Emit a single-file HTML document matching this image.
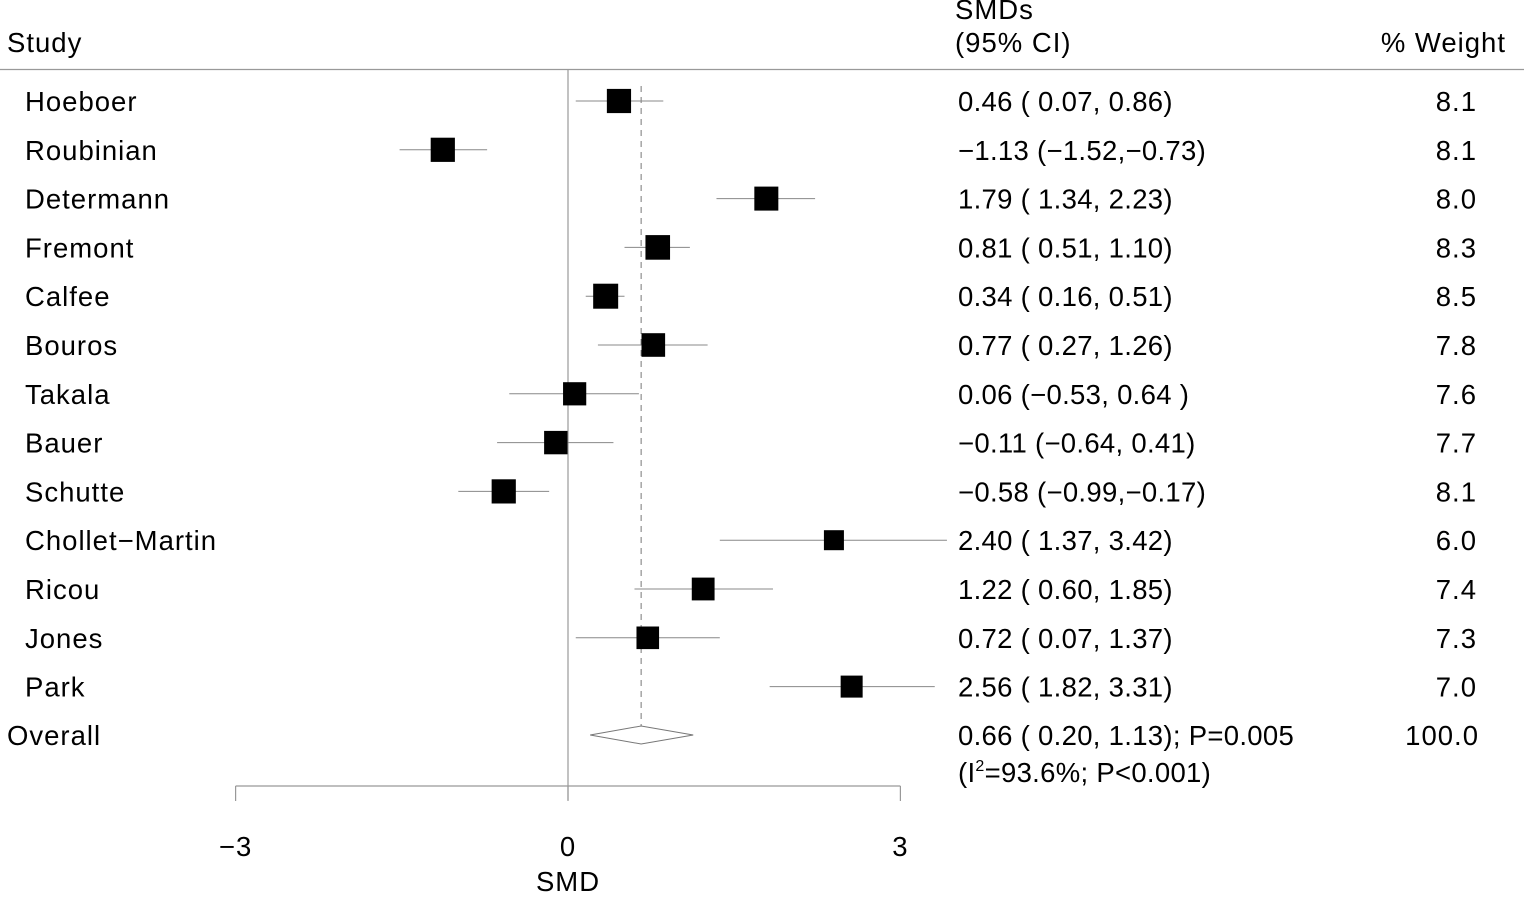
<!DOCTYPE html>
<html><head><meta charset="utf-8"><style>
body{margin:0;background:#fff}
svg text{font-family:"Liberation Sans",sans-serif;font-size:27.5px;letter-spacing:1px;fill:#000}
svg text.ci{letter-spacing:0.3px}
</style></head><body>
<svg width="1524" height="892" xmlns="http://www.w3.org/2000/svg">
<g id="g"></g>
</svg>
<script>
const studies=["Hoeboer","Roubinian","Determann","Fremont","Calfee","Bouros","Takala","Bauer","Schutte","Chollet\u2212Martin","Ricou","Jones","Park"];
const smd=[0.46,-1.13,1.79,0.81,0.34,0.77,0.06,-0.11,-0.58,2.40,1.22,0.72,2.56];
const lo=[0.07,-1.52,1.34,0.51,0.16,0.27,-0.53,-0.64,-0.99,1.37,0.60,0.07,1.82];
const hi=[0.86,-0.73,2.23,1.10,0.51,1.26,0.64,0.41,-0.17,3.42,1.85,1.37,3.31];
const ciText=["0.46 ( 0.07, 0.86)","\u22121.13 (\u22121.52,\u22120.73)","1.79 ( 1.34, 2.23)","0.81 ( 0.51, 1.10)","0.34 ( 0.16, 0.51)","0.77 ( 0.27, 1.26)","0.06 (\u22120.53, 0.64 )","\u22120.11 (\u22120.64, 0.41)","\u22120.58 (\u22120.99,\u22120.17)","2.40 ( 1.37, 3.42)","1.22 ( 0.60, 1.85)","0.72 ( 0.07, 1.37)","2.56 ( 1.82, 3.31)"];
const weight=[8.1,8.1,8.0,8.3,8.5,7.8,7.6,7.7,8.1,6.0,7.4,7.3,7.0];
const overall=[0.66,0.20,1.13];
const ticks=[-3,0,3];
const NS="http://www.w3.org/2000/svg";
const g=document.getElementById('g');
const X=v=>568+v*110.8;
const Y=i=>101+i*48.8;
function mk(t,a,txt){const e=document.createElementNS(NS,t);for(const k in a)e.setAttribute(k,a[k]);if(txt!==undefined)e.textContent=txt;g.appendChild(e);return e;}
let e;
e=mk('text',{x:7,y:52},"Study");


e=mk('text',{x:955,y:19},"SMDs");


e=mk('text',{x:955,y:52},"(95% CI)");


e=mk('text',{x:1506,y:52,'text-anchor':'end'},"% Weight");


e=mk('line',{x1:0,x2:1524,y1:69.5,y2:69.5,stroke:'#999','stroke-width':1.2});


e=mk('line',{x1:X(0),x2:X(0),y1:70,y2:800,stroke:'#999','stroke-width':1.2});


e=mk('line',{x1:X(overall[0]),x2:X(overall[0]),y1:86,y2:745,stroke:'#777','stroke-width':1,'stroke-dasharray':'6,5'});


studies.forEach((s,i)=>{
 const y=Y(i);
 e=mk('text',{x:25,y:y+10},s);
 
 
 e=mk('line',{x1:X(lo[i]),x2:X(hi[i]),y1:y,y2:y,stroke:'#888','stroke-width':1});
 
 
 const sz=8+2*weight[i];
 e=mk('rect',{x:X(smd[i])-sz/2,y:y-sz/2,width:sz,height:sz,fill:'#000'});
 
 
 e=mk('text',{x:958,y:y+10,'class':'ci'},ciText[i]);
 
 
 e=mk('text',{x:1477,y:y+10,'text-anchor':'end'},weight[i].toFixed(1));
 
 
});
const yo=735;
e=mk('text',{x:7,y:yo+10},"Overall");


e=mk('polygon',{points:`${X(overall[1])},${yo} ${X(overall[0])},${yo-9} ${X(overall[2])},${yo} ${X(overall[0])},${yo+9}`,fill:'#fff',stroke:'#777','stroke-width':1});


e=mk('text',{x:958,y:yo+10,'class':'ci'},"0.66 ( 0.20, 1.13); P=0.005");


e=mk('text',{x:958,y:yo+47,'class':'ci'},"");


e.innerHTML='(I<tspan dy="-11" font-size="16">2</tspan><tspan dy="11">=93.6%; P&lt;0.001)</tspan>';
e=mk('text',{x:1479,y:yo+10,'text-anchor':'end'},"100.0");


e=mk('line',{x1:X(ticks[0]),x2:X(ticks[ticks.length-1]),y1:786,y2:786,stroke:'#999','stroke-width':1.2});


ticks.forEach(t=>{
 e=mk('line',{x1:X(t),x2:X(t),y1:786,y2:801,stroke:'#999','stroke-width':1.2});
 
 
 e=mk('text',{x:X(t),y:856,'text-anchor':'middle'},t<0?'\u2212'+Math.abs(t):String(t));
 
 
});
e=mk('text',{x:X(0),y:891,'text-anchor':'middle'},"SMD");


</script>
</body></html>
